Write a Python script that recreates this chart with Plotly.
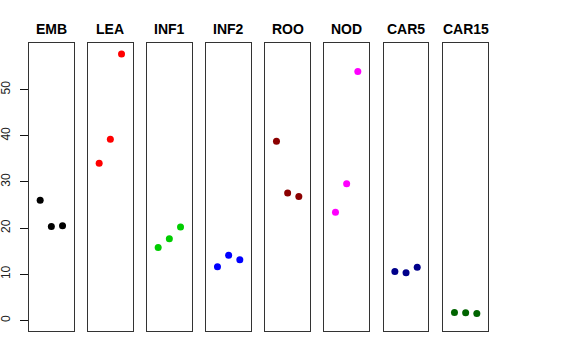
import plotly.graph_objects as go

categories = ["EMB", "LEA", "INF1", "INF2", "ROO", "NOD", "CAR5", "CAR15"]
values = {
    "EMB": [26.0, 20.3, 20.5],
    "LEA": [34.0, 39.2, 57.7],
    "INF1": [15.8, 17.7, 20.2],
    "INF2": [11.6, 14.1, 13.1],
    "ROO": [38.8, 27.6, 26.8],
    "NOD": [23.4, 29.6, 53.9],
    "CAR5": [10.6, 10.3, 11.5],
    "CAR15": [1.7, 1.65, 1.5],
}
colors = ["#000000", "#FF0000", "#00CD00", "#0000FF", "#8B0000", "#FF00FF", "#00008B", "#006400"]
replicates = [1, 2, 3]
y_ticks = [0, 10, 20, 30, 40, 50]

W, H = 576, 360
panel_left = [29.0, 88.0, 147.0, 206.3, 265.3, 324.3, 383.7, 443.3]
panel_w = 44.7
top_px, bot_px = 43.3, 331.0
ymax = max(max(v) for v in values.values())
span = ymax - 0
yr = [0 - 0.04 * span, ymax + 0.04 * span]

fig = go.Figure()
layout = dict(
    width=W, height=H, margin=dict(l=0, r=0, t=0, b=0, autoexpand=False),
    paper_bgcolor="white", plot_bgcolor="white", showlegend=False,
    font=dict(family="Liberation Sans, Arial, sans-serif", color="black"),
)
annotations = []
line_col = "#333333"
for i, cat in enumerate(categories):
    n = "" if i == 0 else str(i + 1)
    fig.add_trace(go.Scatter(
        x=replicates, y=values[cat], mode="markers",
        marker=dict(color=colors[i], size=7, line=dict(width=0)),
        xaxis="x" + n, yaxis="y" + n, hoverinfo="x+y",
    ))
    x0 = panel_left[i] / W
    x1 = (panel_left[i] + panel_w) / W
    layout["xaxis" + n] = dict(
        domain=[x0, x1], range=[0, 4], anchor="y" + n, automargin=False,
        showline=True, mirror=True, linecolor=line_col, linewidth=1,
        showgrid=False, zeroline=False, showticklabels=False, ticks="",
    )
    ya = dict(
        domain=[1 - bot_px / H, 1 - top_px / H], range=yr, anchor="x" + n,
        automargin=False,
        showline=True, mirror=True, linecolor=line_col, linewidth=1,
        showgrid=False, zeroline=False,
    )
    if i == 0:
        ya.update(tickvals=y_ticks, ticks="outside", ticklen=8, tickcolor="#111111",
                  tickangle=-90, tickfont=dict(size=12, color="#222222"),
                  showticklabels=True, ticklabelstandoff=5)
    else:
        ya.update(showticklabels=False, ticks="")
    layout["yaxis" + n] = ya
    annotations.append(dict(
        x=(panel_left[i] + panel_w / 2) / W, y=1 - 29.3 / H, xref="paper", yref="paper",
        text="<b>" + cat + "</b>", showarrow=False, xanchor="center", yanchor="middle",
        font=dict(size=14, color="black"),
    ))
layout["annotations"] = annotations
fig.update_layout(**layout)
fig.write_html("out.html", config={"displayModeBar": False},
               post_script="document.body.style.margin='0';")
